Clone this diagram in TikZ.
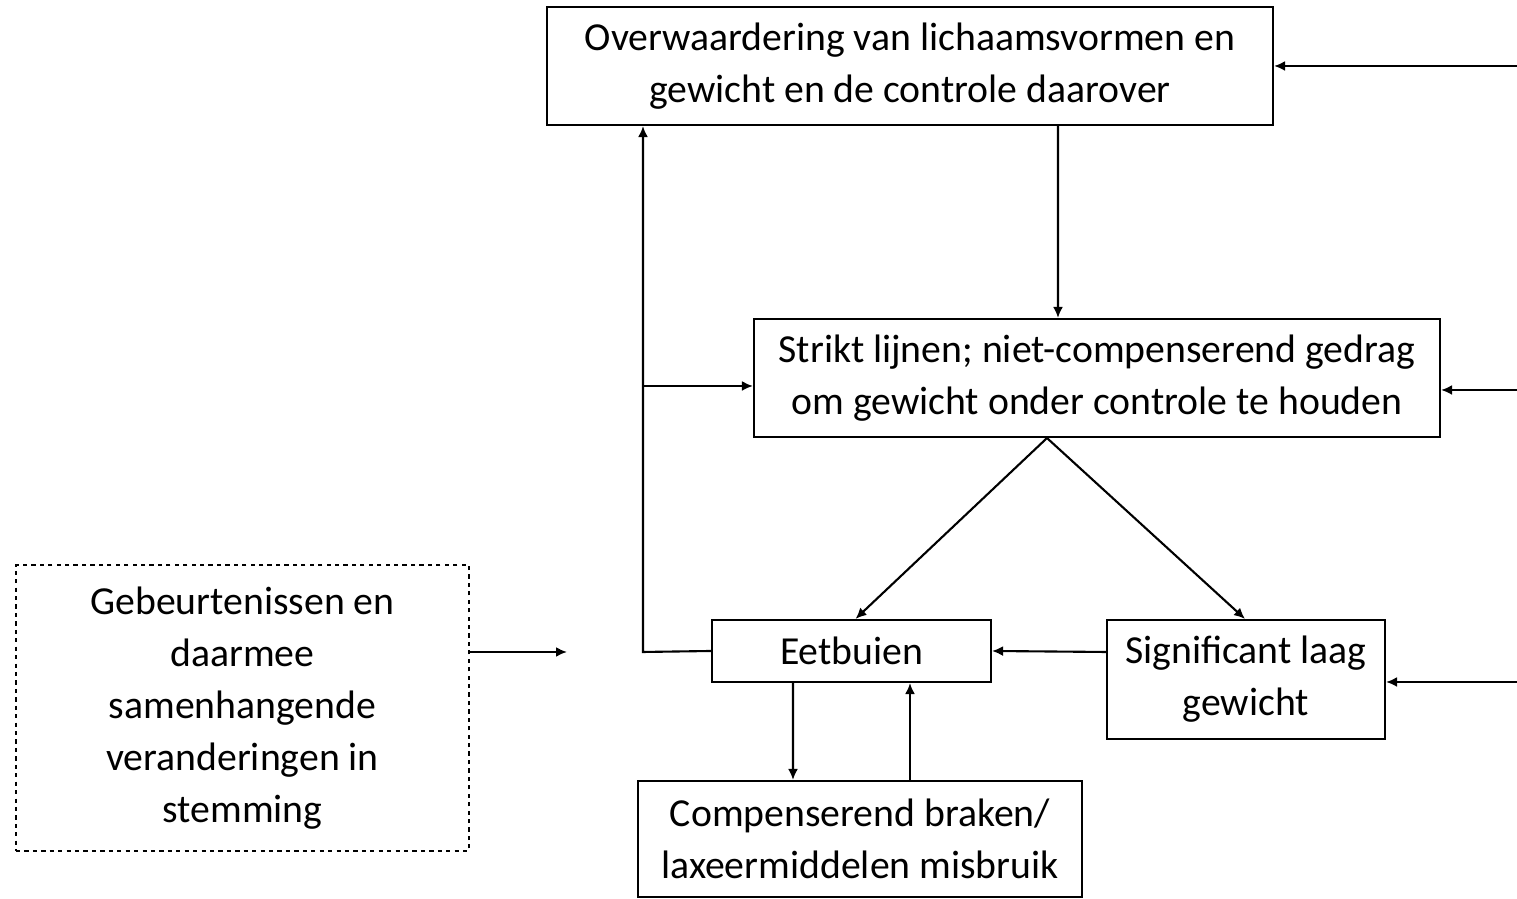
\documentclass[tikz,border=0pt]{standalone}
\usepackage{fontspec}
\setmainfont{Carlito}
\usetikzlibrary{positioning, calc, arrows.meta}
\tikzset{>={Latex[length=1.1mm,width=1mm]}}
\tikzset{
  blok/.style={draw, line width=0.6pt, align=center, inner sep=0pt, font=\fontsize{11.3}{14.8}\selectfont},
  stippelblok/.style={blok, dashed, dash pattern=on 1.2pt off 1.2pt},
  pijl/.style={->, line width=0.6pt}
}

\begin{document}
\begin{tikzpicture}
  \useasboundingbox (0,0) rectangle (15.17,-8.99);
  \node[blok, minimum width=7.26cm, minimum height=1.18cm] (overw) at (9.10,-0.66) {Overwaardering van lichaamsvormen en\\gewicht en de controle daarover};
  \node[blok, minimum width=6.86cm, minimum height=1.18cm] (strikt) at (10.97,-3.78) {Strikt lijnen; niet-compenserend gedrag\\om gewicht onder controle te houden};
  \node[blok, minimum width=2.79cm, minimum height=0.62cm] (eet) at (8.515,-6.51) {Eetbuien};
  \node[blok, minimum width=2.78cm, minimum height=1.19cm] (sign) at (12.46,-6.795) {Significant laag\\gewicht};
  \node[blok, minimum width=4.44cm, minimum height=1.16cm] (comp) at (8.60,-8.39) {Compenserend braken/\\laxeermiddelen misbruik};
  \node[stippelblok, minimum width=4.53cm, minimum height=2.86cm] (gebeur) at (2.425,-7.08) {Gebeurtenissen en\\daarmee\\samenhangende\\veranderingen in\\stemming};

  % vrije eindpunten
  \coordinate (r1) at (15.17,-0.66);
  \coordinate (r2) at (15.17,-3.90);
  \coordinate (r3) at (15.17,-6.82);
  \coordinate (links) at (6.43,-6.52);
  \coordinate (tak) at (6.43,-3.86);
  \coordinate (gebeurpijl) at (5.67,-6.52);

  \draw[pijl] (r1) -- (r1 -| overw.east);
  \draw[pijl] (r2) -- (r2 -| strikt.east);
  \draw[pijl] (r3) -- (r3 -| sign.east);
  \draw[pijl] ($(overw.south)+(1.48,0)$) -- ($(strikt.north)+(-0.39,0)$);
  \draw[pijl] ($(strikt.south)+(-0.50,0)$) -- ($(eet.north)+(0.04,0)$);
  \draw[pijl] ($(strikt.south)+(-0.50,0)$) -- ($(sign.north)+(-0.01,0)$);
  \draw[pijl] ($(sign.west)+(0,0.275)$) -- ($(eet.east)+(0,0)$);
  \draw[pijl] (eet.west) -- (links) -- (links |- overw.south);
  \draw[pijl] (tak) -- (tak -| strikt.west);
  \draw[pijl] ($(eet.south)+(-0.585,0)$) -- ($(comp.north)+(-0.67,0)$);
  \draw[pijl] ($(comp.north)+(0.50,0)$) -- ($(eet.south)+(0.585,0)$);
  \draw[pijl] (gebeur.east |- gebeurpijl) -- (gebeurpijl);
\end{tikzpicture}
\end{document}
